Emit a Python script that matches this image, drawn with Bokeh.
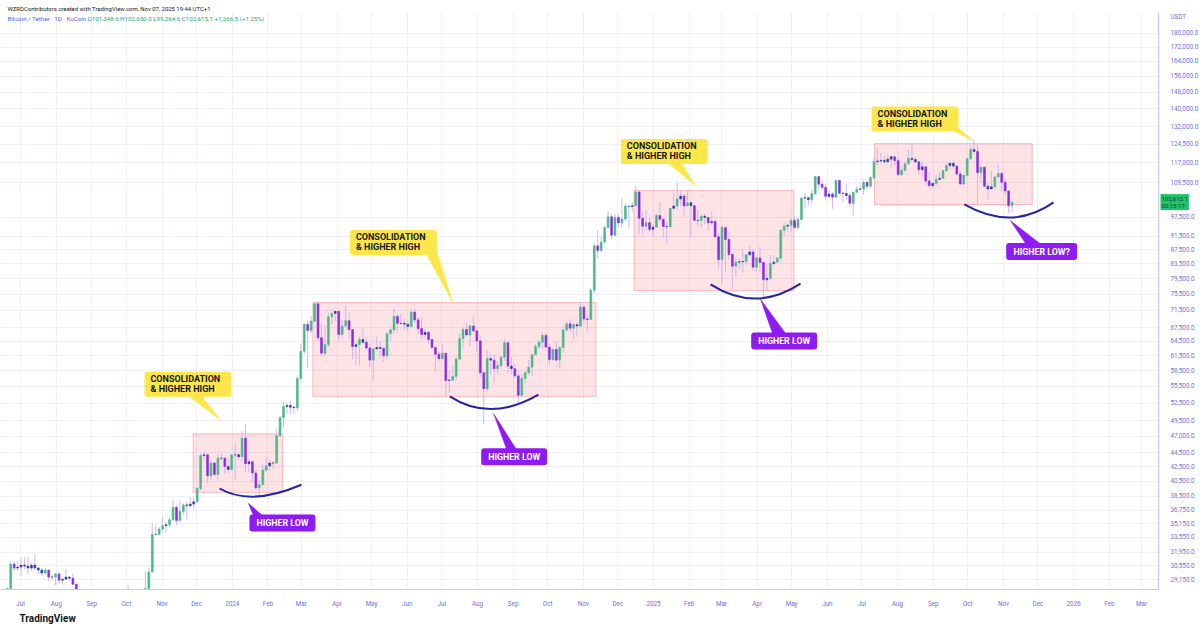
import numpy as np
import pandas as pd
from bokeh.plotting import figure
from bokeh.models import (FixedTicker, CustomJSTickFormatter, Range1d, Label, Title,
                          ColumnDataSource)
from bokeh.core.properties import value
from bokeh.embed import file_html
from bokeh.resources import INLINE

# ---------------- data (3-day candles, values in thousands USDT) ----------------
START = "2023-06-18"
FIRST_OPEN_K = 26.3
LAST_OPEN_K = 101.3486

CLOSE_K = [
    28.3, 30.7, 30.3, 30.4, 30.6, 30.5, 30.3, 30.6, 30.3, 30.1,
    29.8, 30.1, 29.4, 29.4, 29.7, 29.1, 29.2, 29.4, 29.3, 28.7,
    26.1, 26.0, 26.2, 26.1, 26.0, 25.9, 25.8, 25.9, 25.8, 26.6,
    26.8, 26.6, 26.3, 26.4, 26.9, 27.4, 27.9, 27.6, 26.8, 27.2,
    28.3, 29.9, 33.9, 33.9, 34.5, 34.9, 35.0, 35.6, 37.1, 35.5,
    36.6, 37.4, 37.3, 37.5, 37.8, 39.5, 44.1, 44.2, 41.2, 43.0,
    41.4, 43.7, 43.7, 42.5, 42.1, 44.2, 44.2, 43.9, 46.7, 42.9,
    43.2, 41.6, 39.6, 40.0, 42.0, 42.6, 43.0, 43.0, 47.1, 50.0,
    51.9, 52.1, 51.8, 51.7, 57.0, 62.4, 68.3, 66.9, 69.0, 73.1,
    65.3, 62.0, 63.8, 70.0, 70.8, 71.3, 66.0, 67.9, 69.1, 67.1,
    63.4, 63.8, 64.9, 64.3, 63.1, 60.6, 62.9, 63.2, 63.0, 61.5,
    66.2, 67.0, 70.1, 68.5, 68.5, 68.3, 67.8, 71.1, 69.3, 67.3,
    66.0, 66.5, 64.9, 63.2, 61.8, 60.9, 62.0, 56.6, 56.7, 57.4,
    60.8, 65.1, 67.1, 65.9, 67.9, 66.8, 64.6, 58.1, 55.1, 60.9,
    60.6, 58.9, 59.5, 61.2, 64.2, 59.4, 58.9, 57.5, 53.9, 57.0,
    58.1, 59.2, 61.7, 63.4, 64.3, 65.8, 63.3, 60.7, 62.8, 60.6,
    63.2, 67.0, 68.4, 67.4, 68.2, 67.9, 72.3, 69.5, 69.4, 76.5,
    88.7, 87.3, 89.8, 94.3, 97.7, 91.9, 97.5, 95.8, 97.0, 101.2,
    101.1, 101.4, 106.1, 97.2, 94.7, 95.8, 93.7, 94.4, 98.1, 96.9,
    94.6, 94.5, 100.5, 101.3, 103.7, 104.7, 101.3, 102.4, 101.4, 96.6,
    96.5, 97.9, 97.5, 95.8, 96.2, 91.4, 84.7, 94.3, 90.6, 86.2,
    82.9, 84.0, 84.1, 84.2, 86.1, 86.9, 82.6, 85.2, 83.9, 79.2,
    79.6, 83.6, 84.0, 85.1, 93.4, 94.7, 95.0, 96.5, 94.3, 96.8,
    104.0, 104.1, 103.5, 105.6, 111.7, 108.9, 107.8, 104.6, 105.4, 104.3,
    110.3, 105.7, 105.6, 104.9, 102.2, 106.0, 107.1, 107.2, 109.6, 108.2,
    111.3, 117.4, 117.7, 117.9, 117.4, 118.4, 119.4, 117.8, 112.5, 114.1,
    116.6, 118.7, 118.3, 117.4, 114.3, 115.4, 110.1, 108.4, 109.2, 110.7,
    111.1, 113.9, 115.9, 116.8, 115.7, 112.7, 109.0, 112.2, 118.6, 122.3,
    121.5, 113.2, 115.3, 108.2, 107.2, 108.0, 111.6, 112.9, 109.6, 106.5,
    101.35, 102.6151,
]
HIGH_K = [
    28.4, 31.0, 31.0, 31.0, 31.3, 31.4, 31.5, 30.8, 31.8, 30.4,
    30.3, 30.3, 30.0, 29.6, 29.8, 29.9, 29.3, 30.2, 29.5, 29.7,
    28.8, 26.3, 26.8, 26.2, 28.1, 26.1, 26.0, 26.4, 26.5, 26.8,
    27.4, 27.5, 26.7, 26.8, 27.3, 28.6, 28.3, 28.0, 27.7, 27.3,
    30.0, 30.3, 35.2, 35.0, 34.8, 35.9, 35.3, 35.9, 38.0, 37.4,
    37.9, 37.6, 37.8, 38.4, 38.4, 39.7, 44.5, 44.7, 44.4, 43.4,
    43.1, 44.3, 44.4, 43.9, 43.7, 44.2, 45.9, 44.5, 47.9, 49.0,
    43.6, 43.2, 42.0, 40.6, 42.8, 43.8, 43.5, 43.3, 48.2, 50.3,
    52.8, 52.6, 52.9, 52.0, 57.6, 64.0, 68.5, 69.0, 70.2, 73.6,
    73.8, 68.4, 68.1, 71.0, 71.5, 71.4, 71.4, 69.3, 72.7, 71.2,
    67.0, 64.4, 65.5, 67.2, 65.3, 64.0, 63.3, 65.5, 64.4, 63.4,
    66.4, 67.6, 71.9, 70.7, 70.6, 69.5, 69.0, 71.7, 71.9, 70.0,
    69.9, 67.3, 66.5, 65.1, 63.4, 62.3, 63.8, 62.2, 58.5, 59.5,
    61.2, 66.1, 67.6, 68.5, 68.2, 70.0, 66.9, 65.6, 58.2, 62.7,
    61.8, 61.8, 60.3, 61.4, 64.9, 64.5, 61.2, 59.8, 58.5, 58.0,
    58.5, 60.6, 61.8, 64.0, 64.8, 66.5, 66.3, 64.1, 63.0, 64.4,
    63.5, 67.9, 68.9, 69.5, 68.7, 68.8, 73.6, 72.7, 70.6, 77.2,
    89.6, 93.4, 91.8, 94.9, 99.6, 98.6, 98.6, 98.5, 104.0, 102.0,
    101.2, 102.6, 108.4, 106.5, 99.5, 99.9, 97.3, 95.2, 98.7, 102.7,
    97.3, 95.9, 100.8, 106.3, 109.6, 106.9, 105.5, 106.4, 102.8, 101.1,
    100.1, 98.5, 98.8, 97.7, 99.5, 96.7, 92.5, 95.0, 94.4, 92.8,
    86.5, 85.3, 85.0, 87.5, 86.3, 88.8, 87.8, 85.5, 88.5, 84.2,
    83.5, 86.0, 85.8, 85.5, 93.8, 95.8, 95.5, 97.4, 97.9, 97.7,
    104.4, 105.8, 104.4, 107.1, 112.0, 111.9, 110.7, 108.9, 106.8, 106.0,
    110.5, 110.4, 106.2, 108.9, 106.1, 106.3, 108.1, 108.8, 110.5, 109.8,
    111.9, 118.9, 123.2, 120.9, 119.7, 120.1, 119.8, 119.3, 118.9, 115.7,
    117.7, 122.3, 124.5, 119.2, 117.6, 117.4, 115.6, 113.4, 109.5, 112.7,
    113.3, 114.3, 116.7, 117.0, 117.9, 116.0, 113.9, 112.4, 118.7, 123.9,
    126.2, 124.2, 115.9, 115.0, 109.2, 114.0, 112.0, 116.4, 113.6, 111.2,
    106.6, 102.650,
]
LOW_K = [
    26.2, 28.3, 30.0, 30.0, 29.5, 30.2, 29.7, 30.0, 30.2, 29.7,
    29.5, 29.6, 29.0, 29.1, 28.6, 28.8, 28.7, 29.1, 29.1, 28.7,
    25.2, 25.4, 25.8, 25.9, 25.9, 25.3, 25.4, 25.6, 24.9, 25.8,
    26.3, 26.4, 26.0, 26.0, 26.3, 26.9, 27.2, 27.3, 26.6, 26.8,
    27.1, 28.2, 29.9, 33.8, 33.9, 34.1, 34.1, 34.7, 35.5, 35.0,
    35.5, 36.2, 35.6, 37.1, 36.8, 37.6, 39.3, 43.4, 40.2, 40.7,
    41.2, 40.5, 43.3, 41.5, 41.5, 41.9, 40.7, 43.5, 43.2, 41.7,
    41.7, 40.3, 39.4, 38.5, 39.8, 41.8, 41.9, 42.2, 42.8, 47.0,
    48.4, 50.7, 50.6, 50.6, 51.1, 56.7, 61.8, 59.0, 66.2, 68.6,
    64.6, 61.5, 61.5, 63.3, 68.3, 69.1, 64.5, 65.1, 67.5, 65.1,
    60.8, 59.7, 59.6, 64.0, 62.5, 59.2, 56.6, 62.8, 60.9, 60.2,
    60.8, 64.7, 66.2, 66.4, 68.3, 67.1, 66.7, 67.6, 68.5, 66.1,
    65.1, 65.1, 64.1, 63.2, 58.4, 60.4, 60.6, 53.5, 54.3, 56.5,
    56.6, 60.6, 63.2, 65.5, 63.4, 66.5, 62.3, 57.2, 49.0, 54.6,
    57.7, 56.2, 57.8, 58.8, 60.4, 57.9, 57.8, 57.2, 52.6, 53.7,
    56.0, 57.6, 57.5, 61.6, 62.7, 62.9, 62.9, 59.8, 60.5, 60.3,
    58.9, 62.1, 66.6, 66.6, 65.1, 65.5, 67.6, 68.8, 66.8, 69.3,
    75.7, 85.1, 87.0, 89.4, 94.0, 90.8, 91.8, 94.3, 94.1, 96.4,
    94.2, 99.2, 101.2, 92.2, 92.3, 93.4, 92.9, 91.3, 94.2, 96.1,
    91.2, 89.2, 94.3, 99.9, 100.1, 101.2, 97.7, 101.3, 91.2, 96.1,
    94.8, 94.1, 95.2, 93.4, 95.0, 91.2, 82.2, 78.2, 81.5, 84.7,
    76.6, 80.0, 82.0, 81.2, 83.2, 85.9, 81.6, 81.3, 81.2, 74.4,
    76.2, 78.9, 83.1, 83.9, 83.9, 91.7, 92.8, 92.9, 94.0, 93.4,
    96.6, 100.7, 101.4, 102.1, 104.9, 106.6, 106.8, 103.1, 103.9, 100.4,
    104.3, 105.4, 102.7, 103.4, 101.0, 98.2, 106.0, 106.8, 105.1, 107.2,
    107.5, 110.6, 115.7, 116.8, 116.5, 116.8, 114.7, 115.8, 112.0, 111.9,
    113.4, 116.3, 117.2, 116.8, 112.4, 111.7, 108.7, 107.8, 107.3, 108.6,
    110.0, 110.8, 113.4, 114.4, 114.8, 112.0, 108.7, 108.6, 111.6, 118.2,
    120.6, 102.0, 109.6, 108.0, 103.5, 106.9, 107.3, 111.2, 106.3, 105.3,
    98.9, 99.2646,
]

Y_TICKS = [29150, 30550, 31950, 33550, 35150, 36750, 38500, 40500, 42500, 44500,
           47000, 49500, 52500, 55500, 58500, 61500, 64500, 67500, 71500, 75500,
           79500, 83500, 87500, 91500, 97500, 109500, 117000, 124500, 132000,
           140000, 148000, 156000, 164000, 172000, 180000]
UNIT_LABEL = "USDT"
UNIT_LABEL_LEVEL = 189900
MONTH_TICKS = pd.date_range("2023-07-01", "2026-03-01", freq="MS")

# consolidation rectangles
BOX_LEFT = ["2023-11-28", "2024-03-11", "2024-12-15", "2025-07-12"]
BOX_RIGHT = ["2024-02-14", "2024-11-12", "2025-05-03", "2025-11-26"]
BOX_TOP = [47400, 73400, 106700, 124700]
BOX_BOTTOM = [39000, 53700, 76400, 101800]

# "higher low" arcs (start, end, control point)
ARC_X0 = ["2023-12-21", "2024-07-08", "2025-02-19 12:00", "2025-09-28"]
ARC_Y0 = [39500, 53700, 78000, 101800]
ARC_X1 = ["2024-03-01", "2024-09-23", "2025-05-08 16:00", "2025-12-14 12:00"]
ARC_Y1 = [40000, 54000, 78200, 102500]
ARC_CX = ["2024-01-17", "2024-08-12", "2025-03-30 14:00", "2025-11-08 10:00"]
ARC_CY = [37200, 49200, 70900, 93000]

# yellow callouts
Y_TEXT = ["CONSOLIDATION\n& HIGHER HIGH"] * 4
Y_CX = ["2023-11-23 12:00", "2024-05-20", "2025-01-10 08:00", "2025-08-16 05:00"]
Y_CY = [55900, 89700, 121500, 135400]
YT_B1 = ["2023-11-20", "2024-06-17", "2025-01-11", "2025-09-14"]
YT_B2 = ["2023-12-03", "2024-06-27", "2025-01-24", "2025-09-23"]
YT_BY = [54400, 86700, 117900, 131100]
YT_AX = ["2023-12-22", "2024-07-11", "2025-02-06", "2025-10-06"]
YT_AY = [49600, 73200, 108500, 126000]

# purple callouts
P_TEXT = ["HIGHER LOW", "HIGHER LOW", "HIGHER LOW", "HIGHER LOW?"]
P_CX = ["2024-02-13 14:00", "2024-09-01 22:00", "2025-04-24 12:00", "2025-12-04 05:00"]
P_CY = [35200, 43900, 64600, 87000]
P_W = [66, 66, 66, 71]
PT_B1 = ["2024-01-20", "2024-08-27", "2025-04-15", "2025-11-22"]
PT_B2 = ["2024-01-29", "2024-09-05", "2025-04-27", "2025-12-06"]
PT_BY = [35900, 44700, 65800, 88500]
PT_AX = ["2024-01-15", "2024-08-15", "2025-04-04", "2025-11-07"]
PT_AY = [37600, 50700, 74200, 96500]

X_START = "2023-06-13 15:00"
X_END = "2026-03-15 17:00"
Y_MIN, Y_MAX = 28210, 193050

# ---------------- styling ----------------
GREEN = "#48b884"
PURPLE = "#8a2be2"
NAVY = "#2e3a9e"
WICK = "#c9b1f3"
YELLOW = "#fce64a"
VIOLET = "#8e1cf0"
ARC = "#2424a8"
AXIS_TXT = "#6c70d8"
GRID = "#eef0f7"
FONT = "Roboto"
BLUE_TXT = "#5b5fe0"
GREEN_TXT = "#22ab74"


def ms(s):
    return pd.Timestamp(s).value / 1e6


def msl(lst):
    return [ms(s) for s in lst]


close = np.array(CLOSE_K) * 1000
high = np.array(HIGH_K) * 1000
low = np.array(LOW_K) * 1000
opens = np.concatenate([[FIRST_OPEN_K * 1000], close[:-1]])
opens[-1] = LAST_OPEN_K * 1000
n = len(close)
dates = pd.date_range(START, periods=n, freq="3D") + pd.Timedelta(hours=36)
chg = (close - opens) / opens
colors = np.where(np.abs(chg) < 0.01, NAVY, np.where(chg > 0, GREEN, PURPLE))

src = ColumnDataSource(dict(x=dates, o=opens, c=close, h=high, l=low,
                            top=np.maximum(opens, close), bot=np.minimum(opens, close),
                            color=colors))

FW, FH = 1158, 577
p = figure(x_axis_type="datetime", y_axis_type="log",
           frame_width=FW, frame_height=FH,
           x_range=Range1d(pd.Timestamp(X_START), pd.Timestamp(X_END)),
           y_range=Range1d(Y_MIN, Y_MAX),
           y_axis_location="right",
           output_backend="svg", toolbar_location=None,
           min_border_left=0, min_border_top=12, min_border_bottom=20, min_border_right=30,
           background_fill_color="white", border_fill_color="white")
p.outline_line_color = None

# header line above the chart
p.add_layout(Title(text="WZRDContributors created with TradingView.com, Nov 07, 2025 19:44 UTC+1",
                   align="left", offset=7, standoff=1, text_font=FONT,
                   text_font_size="5.95px", text_font_style="normal",
                   text_color="#131722"), "above")

# axes
p.yaxis.ticker = FixedTicker(ticks=Y_TICKS + [UNIT_LABEL_LEVEL])
p.yaxis.formatter = CustomJSTickFormatter(args=dict(unit=UNIT_LABEL, lvl=UNIT_LABEL_LEVEL), code="""
if (Math.abs(tick - lvl) < 1) { return unit; }
return tick.toLocaleString("en-US", {minimumFractionDigits: 1, maximumFractionDigits: 1});
""")
p.xaxis.ticker = FixedTicker(ticks=[t.value / 1e6 for t in MONTH_TICKS])
p.xaxis.formatter = CustomJSTickFormatter(code="""
const d = new Date(tick);
const m = d.getUTCMonth();
const names = ["Jan","Feb","Mar","Apr","May","Jun","Jul","Aug","Sep","Oct","Nov","Dec"];
return m === 0 ? String(d.getUTCFullYear()) : names[m];
""")
for ax in (p.xaxis[0], p.yaxis[0]):
    ax.axis_line_color = "#c9cbf2"
    ax.axis_line_width = 1.2
    ax.major_tick_line_color = None
    ax.minor_tick_line_color = None
    ax.major_label_text_color = AXIS_TXT
    ax.major_label_text_font = FONT
    ax.major_label_text_font_size = "6.3px"
p.xaxis.major_label_standoff = 4
p.yaxis.major_label_standoff = 6
p.xgrid.ticker = p.xaxis[0].ticker
p.ygrid.ticker = FixedTicker(ticks=Y_TICKS)
p.xgrid.grid_line_color = GRID
p.ygrid.grid_line_color = GRID

# footer
p.add_layout(Title(text="TradingView", align="left", offset=19, standoff=0, text_font=FONT,
                   text_font_size="10px", text_font_style="bold",
                   text_color="#131722"), "below")

# consolidation boxes
p.quad(left=msl(BOX_LEFT), right=msl(BOX_RIGHT), top=BOX_TOP, bottom=BOX_BOTTOM,
       fill_color="#f23645", fill_alpha=0.14, line_color="#f23645", line_alpha=0.3, line_width=1)

# candles
bw = 1.6 * 86400000
p.segment(x0="x", y0="h", x1="x", y1="l", source=src, line_color=WICK, line_width=0.9)
p.vbar(x="x", width=bw, top="top", bottom="bot", source=src,
       fill_color="color", line_color="color", line_width=0.6)

# arcs
p.quadratic(x0=msl(ARC_X0), y0=ARC_Y0, x1=msl(ARC_X1), y1=ARC_Y1,
            cx=msl(ARC_CX), cy=ARC_CY, line_color=ARC, line_width=2)

# yellow callouts
p.patches(xs=[[ms(a), ms(b), ms(c)] for a, b, c in zip(YT_B1, YT_B2, YT_AX)],
          ys=[[by, by, ay] for by, ay in zip(YT_BY, YT_AY)],
          fill_color=YELLOW, line_color=YELLOW, line_width=0.5)
p.rect(x=msl(Y_CX), y=Y_CY, width=87, height=25, width_units="screen", height_units="screen",
       fill_color=YELLOW, line_color=None, border_radius=3)
p.text(x=msl(Y_CX), y=Y_CY, text=Y_TEXT, x_offset=-37.5, text_align="left",
       text_baseline="middle", text_font=value(FONT), text_font_style="bold",
       text_font_size="9px", text_line_height=1.0, text_color="#131722")

# purple callouts
p.patches(xs=[[ms(a), ms(b), ms(c)] for a, b, c in zip(PT_B1, PT_B2, PT_AX)],
          ys=[[by, by, ay] for by, ay in zip(PT_BY, PT_AY)],
          fill_color=VIOLET, line_color=VIOLET, line_width=0.5)
p.rect(x=msl(P_CX), y=P_CY, width=P_W, height=17, width_units="screen", height_units="screen",
       fill_color=VIOLET, line_color=None, border_radius=3)
p.text(x=msl(P_CX), y=P_CY, text=P_TEXT, text_align="center", text_baseline="middle",
       text_font=value(FONT), text_font_style="bold", text_font_size="8.8px",
       text_color="white")

# symbol / OHLC line inside the chart
head = [("Bitcoin / Tether · 1D · KuCoin", 7, BLUE_TXT),
        ("O", 87, BLUE_TXT), ("101,348.6", 91.2, GREEN_TXT),
        ("H", 119.5, BLUE_TXT), ("102,650.0", 124, GREEN_TXT),
        ("L", 152.8, BLUE_TXT), ("99,264.6", 156.1, GREEN_TXT),
        ("C", 181.3, BLUE_TXT), ("102,615.1", 185.3, GREEN_TXT),
        ("+1,266.5 (+1.25%)", 214, GREEN_TXT)]
for t, xx, col in head:
    p.add_layout(Label(x=xx, y=FH - 6, x_units="screen", y_units="screen", text=t,
                       text_font=FONT, text_font_size="6.2px", text_color=col,
                       text_baseline="middle"))

# last-price tag on the price scale (side panel so that it is not clipped to the frame)
p.add_layout(Label(x=1160, y=close[-1], x_units="screen", y_units="data",
                   text="102,615.1\n05:15:17", text_font=FONT, text_font_size="6px",
                   text_color="#0d3b22", text_baseline="middle", text_line_height=1.0,
                   background_fill_color="#1fc46a", padding=1), "below")

open("out.html", "w").write(file_html(p, INLINE))
